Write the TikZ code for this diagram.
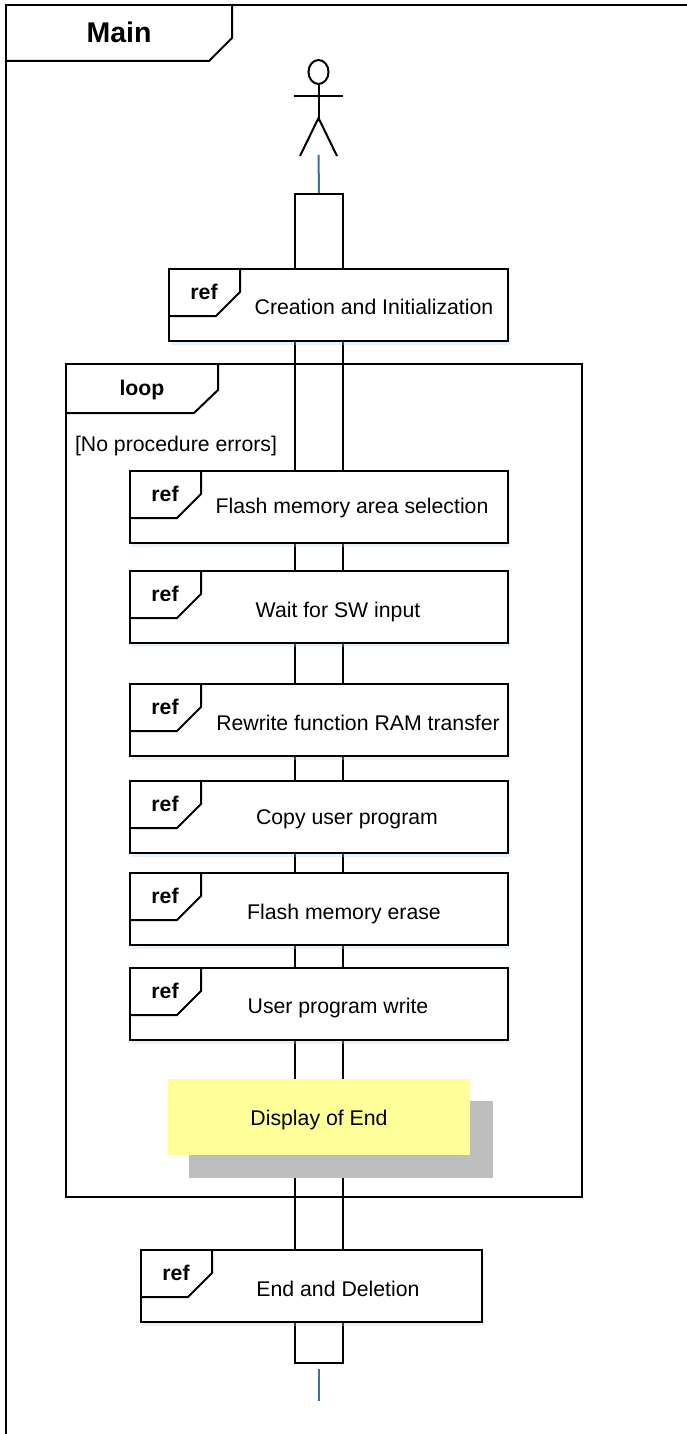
\documentclass[tikz,border=0pt]{standalone}
\usepackage{fontspec}
\setmainfont{Liberation Sans}
\usetikzlibrary{positioning,calc,shapes.geometric,shadows}
\definecolor{notefill}{RGB}{255,255,153}
\definecolor{noteshade}{RGB}{190,190,190}
\definecolor{tickblue}{RGB}{65,110,160}
\definecolor{haloblue}{RGB}{190,210,235}
\tikzset{
	every node/.style={font=\fontsize{21.25}{25}\selectfont,inner sep=0pt,text height=14pt,text depth=4pt},
	line/.style={draw=black,line width=2pt},
	refbox/.style={line,fill=white,minimum height=72pt,drop shadow={shadow xshift=2pt,shadow yshift=-4pt,fill=haloblue,opacity=.3}},
	reftitle/.style={font=\fontsize{21.25}{25}\selectfont\bfseries},
	tick/.style={draw=tickblue,line width=2pt},
}
\newcommand{\reftab}[2]{\draw[line] ($(#1.north west)+(72,0)$)--+(0,24)--+(-24,48)--+(-72,48);
	\node (#1ref) at ($(#1.north west)+(36,#2)$)[reftitle] {ref};}
\begin{document}
\begin{tikzpicture}[x=1pt,y=-1pt]
	\useasboundingbox[fill=white] (0,0) rectangle (687,1434);
	% outer frame
	\coordinate (framebottom) at (6,1434);
	\coordinate (frameright) at (687,5);
	\coordinate (framecorner) at (6,5);
	\draw[line] (framebottom)--(framecorner)--(frameright);
	\draw[line] (232,5)--(232,38)--(209,61)--(6,61);
	\node (maintitle) at (119,38)[font=\fontsize{28.5}{32}\selectfont\bfseries] {Main};
	% actor
	\node (head) at (318.5,72)[ellipse,draw,line width=2pt,minimum width=20pt,minimum height=24pt,text height=0pt,text depth=0pt] {};
	\coordinate (hip) at (318.5,118);
	\coordinate (armleft) at (294,96);
	\coordinate (armright) at (343,96);
	\coordinate (legleft) at (300,156);
	\coordinate (legright) at (337,156);
	\draw[line] (head.south)--(hip);
	\draw[line] (armleft)--(armright);
	\draw[line] (legleft)--(hip)--(legright);
	% lifeline
	\node (life) at (319,778.5)[line,fill=white,minimum width=48pt,minimum height=1169pt] {};
	\coordinate (actorfoot) at (318.5,155);
	\coordinate (lifeend) at (318.5,1369);
	\coordinate (endtick) at (318.5,1401);
	\draw[tick] (actorfoot)--(life.north);
	\draw[tick] (lifeend)--(endtick);
	% loop
	\node (loopframe) at (324,780.5)[line,minimum width=516pt,minimum height=833pt] {};
	\draw[line] (218,364)--(218,390)--(194,413)--(66,413);
	\node (looptitle) at (142,390)[reftitle] {loop};
	\node (guard) at (176,446) {[No procedure errors]};
	% ref boxes
	\node (create) at (338.5,305)[refbox,minimum width=339pt] {};
	\node (createtext) at (374,309) {Creation and Initialization};
	\reftab{create}{26}
	\node (select) at (319,507)[refbox,minimum width=378pt] {};
	\node (selecttext) at (352,508) {Flash memory area selection};
	\reftab{select}{26}
	\node (wait) at (319,607)[refbox,minimum width=378pt] {};
	\node (waittext) at (338,612) {Wait for SW input};
	\reftab{wait}{26}
	\node (transfer) at (319,720)[refbox,minimum width=378pt] {};
	\node (transfertext) at (358,725) {Rewrite function RAM transfer};
	\reftab{transfer}{26}
	\node (copyprog) at (319,817)[refbox,minimum width=378pt] {};
	\node (copytext) at (347,819) {Copy user program};
	\reftab{copyprog}{26}
	\node (erase) at (319,909)[refbox,minimum width=378pt] {};
	\node (erasetext) at (344,914) {Flash memory erase};
	\reftab{erase}{26}
	\node (write) at (319,1004)[refbox,minimum width=378pt] {};
	\node (writetext) at (338,1008) {User program write};
	\reftab{write}{26}
	% note
	\node (noteshadow) at (341,1139.5)[fill=noteshade,minimum width=304pt,minimum height=77pt] {};
	\node (note) at (319,1117)[fill=notefill,minimum width=302pt,minimum height=76pt,text height=20pt] {Display of End};
	% end
	\node (finish) at (311.5,1286)[refbox,minimum width=341pt] {};
	\node (finishtext) at (338,1291) {End and Deletion};
	\reftab{finish}{26}
\end{tikzpicture}
\end{document}
